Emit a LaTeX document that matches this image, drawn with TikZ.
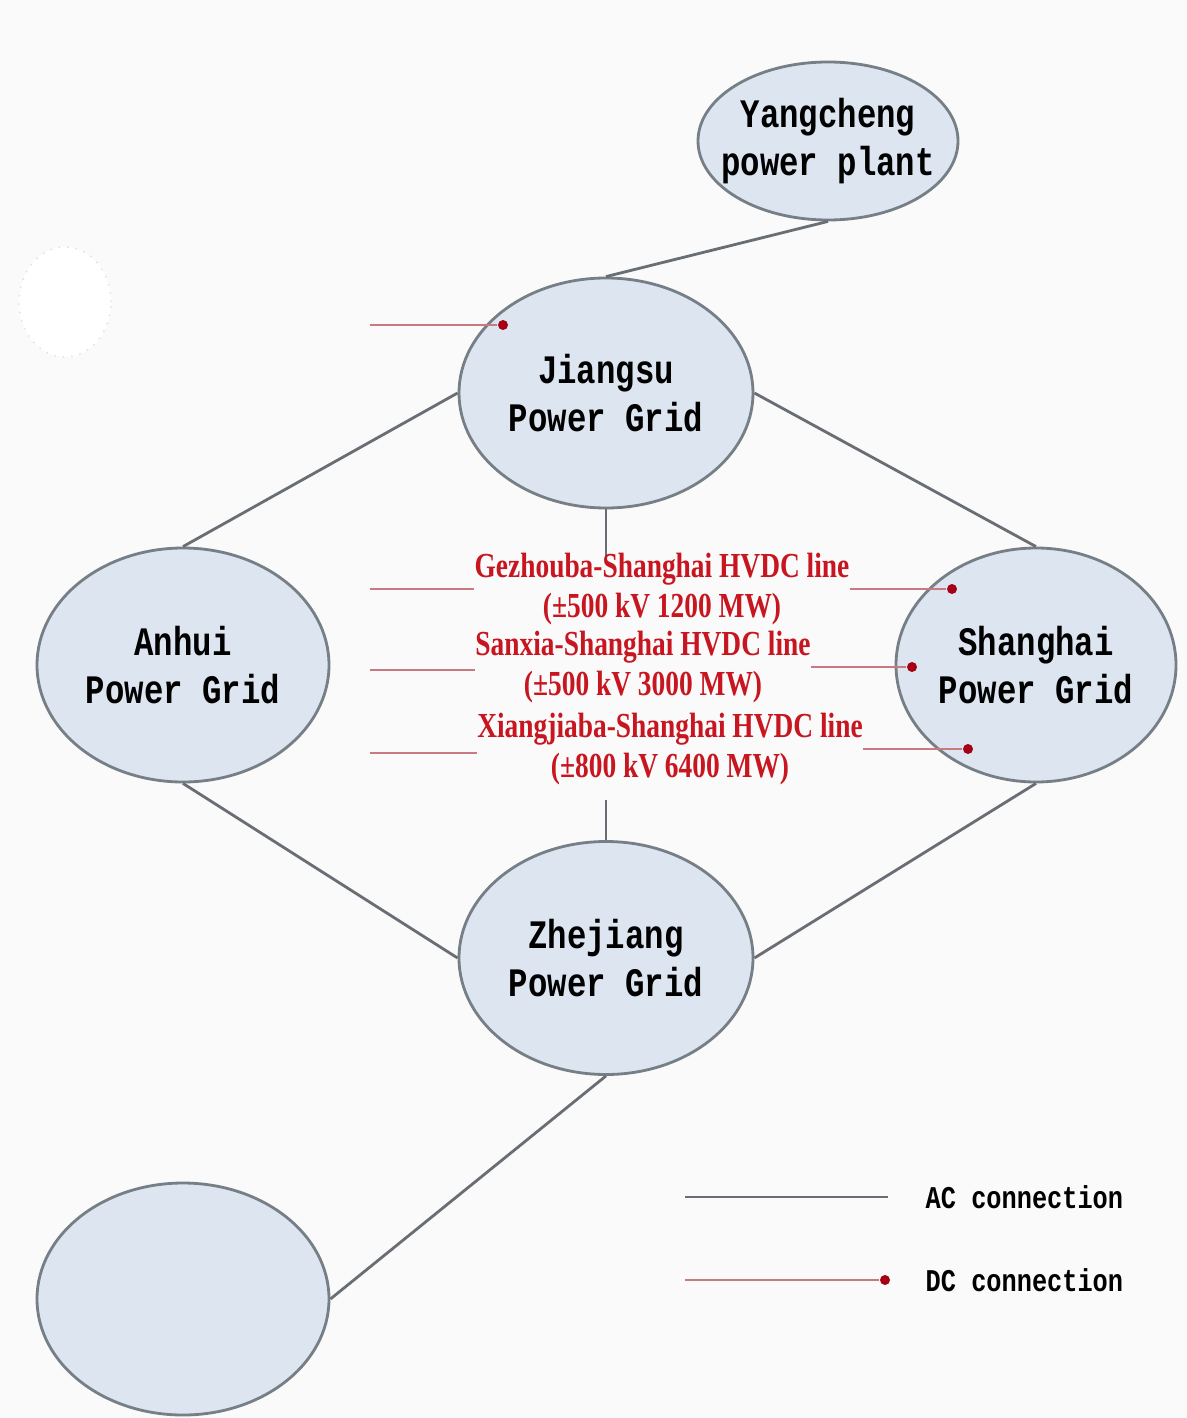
\documentclass[tikz,border=0pt]{standalone}
\usepackage{fontspec}
\usetikzlibrary{shapes.geometric}
\newfontfamily\gridfont{Liberation Mono}[FakeStretch=0.8]
\newfontfamily\hvdcfont{Liberation Serif}[FakeStretch=0.78]
\definecolor{gridfill}{RGB}{221,229,240}
\definecolor{gridedge}{RGB}{118,126,134}
\definecolor{acgray}{RGB}{105,110,116}
\definecolor{dcpink}{RGB}{200,122,128}
\definecolor{dotred}{RGB}{165,0,20}
\definecolor{hvdcred}{RGB}{200,22,32}
\definecolor{paper}{RGB}{250,250,250}

\begin{document}
\begin{tikzpicture}[dcdot/.style={circle, fill=dotred, inner sep=0pt, minimum size=0.1cm},
                hvdc/.style={align=center, text=hvdcred, inner sep=0pt, font=\hvdcfont\bfseries\fontsize{10}{11.4}\selectfont},
                keytext/.style={anchor=west, inner sep=0pt, font=\gridfont\bfseries\fontsize{9}{11}\selectfont}]
        \fill[paper] (0,0) rectangle (11.87,-14.18);
        \useasboundingbox (0,0) rectangle (11.87,-14.18);
        \node [ellipse, draw=black!12, dotted, fill=white, minimum width=0.92cm, minimum height=1.1cm] (W) at (0.65,-3.02) {};
        \begin{scope}[every node/.style={ellipse, thick, draw=gridedge, fill=gridfill, align=center, inner sep=0pt, font=\gridfont\bfseries\fontsize{11.5}{13.6}\selectfont}]
                \node [minimum width=2.6cm, minimum height=1.58cm, inner xsep=-5pt] (0) at (8.28,-1.41) {Yangcheng\\power plant};
                \node [minimum width=2.94cm, minimum height=2.3cm] (1) at (6.06,-3.93) {Jiangsu\\Power Grid};
                \node [minimum width=2.92cm, minimum height=2.34cm] (2) at (1.83,-6.65) {Anhui\\Power Grid};
                \node [minimum width=2.8cm, minimum height=2.34cm] (3) at (10.36,-6.65) {Shanghai\\Power Grid};
                \node [minimum width=2.94cm, minimum height=2.33cm] (4) at (6.06,-9.58) {Zhejiang\\Power Grid};
                \node [minimum width=2.92cm, minimum height=2.32cm] (5) at (1.83,-12.99) {};
        \end{scope}
        \coordinate (A) at (6.06,-5.57);
        \coordinate (B) at (6.06,-8.0);
        \begin{scope}[every path/.style={thick, draw=acgray}]
                \path (0.south) edge (1.north);
                \path (1.west) edge (2.north);
                \path (1.east) edge (3.north);
                \path (2.south) edge (4.west);
                \path (3.south) edge (4.east);
                \path (4.south) edge (5.east);
                \path (1.south) edge (A);
                \path (B) edge (4.north);
        \end{scope}
        \node [hvdc] (h1) at (6.62,-5.89) {Gezhouba-Shanghai HVDC line\\(±500 kV 1200 MW)};
        \node [hvdc] (h2) at (6.43,-6.67) {Sanxia-Shanghai HVDC line\\(±500 kV 3000 MW)};
        \node [hvdc] (h3) at (6.70,-7.49) {Xiangjiaba-Shanghai HVDC line\\(±800 kV 6400 MW)};
        \coordinate (L0) at (3.70,-3.25);
        \coordinate (L1) at (3.70,-5.89);
        \coordinate (L2) at (3.70,-6.70);
        \coordinate (L3) at (3.70,-7.53);
        \node [dcdot] (j) at (5.03,-3.25) {};
        \node [dcdot] (s1) at (9.52,-5.89) {};
        \node [dcdot] (s2) at (9.12,-6.67) {};
        \node [dcdot] (s3) at (9.68,-7.49) {};
        % legend
        \coordinate (ka) at (6.85,-11.97);
        \coordinate (kb) at (8.88,-11.97);
        \coordinate (kc) at (6.85,-12.80);
        \node [dcdot] (kd) at (8.85,-12.80) {};
        \node [keytext] (ac) at (9.25,-11.97) {AC connection};
        \node [keytext] (dc) at (9.25,-12.80) {DC connection};
        \path [thick, draw=acgray] (ka) edge (kb);
        \begin{scope}[every path/.style={thick, draw=dcpink}]
                \path (L0) edge (j);
                \path (L1) edge (h1.west);
                \path (L2) edge (h2.west |- L2);
                \path (L3) edge (h3.west |- L3);
                \path (h1.east) edge (s1);
                \path (h2.east) edge (s2);
                \path (h3.east) edge (s3);
                \path (kc) edge (kd);
        \end{scope}
\end{tikzpicture}
\end{document}
